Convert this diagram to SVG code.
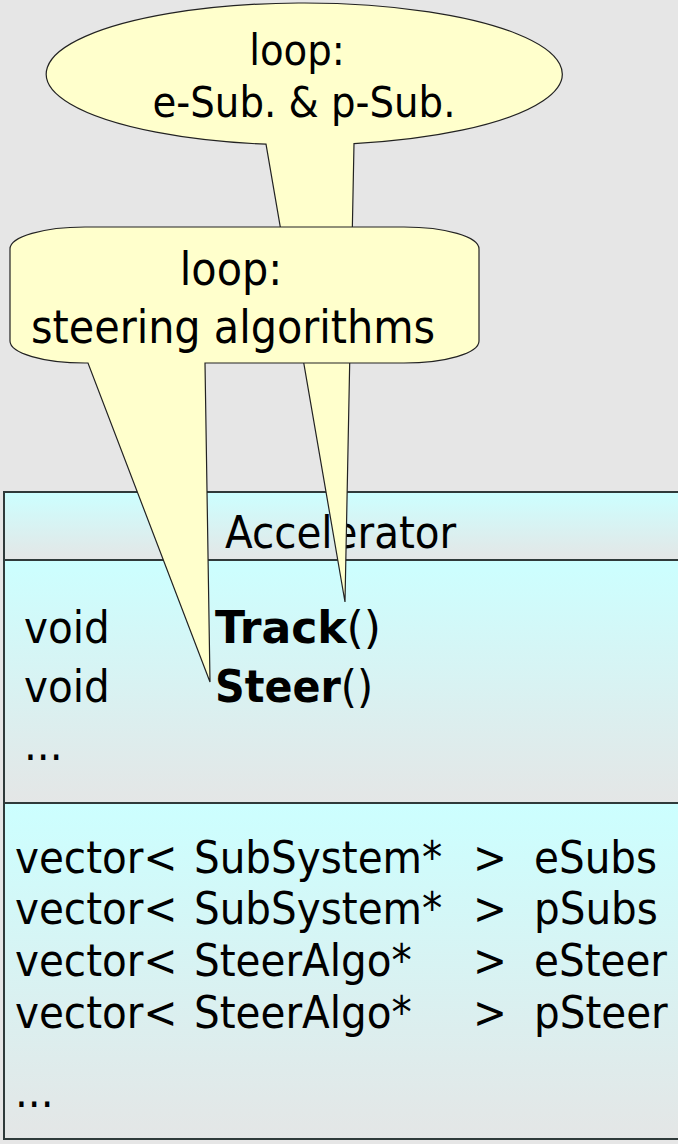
<svg xmlns="http://www.w3.org/2000/svg" width="678" height="1144" viewBox="0 0 678 1144">
<style>
text{font-family:"DejaVu Sans Condensed","DejaVu Sans",sans-serif;font-stretch:condensed;fill:#000}
.cls{font-size:45px}
.co{font-size:43px;text-anchor:middle}
.co2{font-size:46px;text-anchor:middle}
.callout{fill:#ffffcc;stroke:#222;stroke-width:1.2}
.comp{fill:url(#g);stroke:#2f3a3a;stroke-width:2}
</style>
<defs>
<linearGradient id="g" x1="0" y1="0" x2="0" y2="1">
<stop offset="0" stop-color="#ccffff"/>
<stop offset="1" stop-color="#e4e6e6"/>
</linearGradient>
</defs>
<rect x="0" y="0" width="678" height="1144" fill="#e6e6e6"/>
<g id="accelerator">
<rect class="comp" x="4" y="492" width="720" height="68"/>
<rect class="comp" x="4" y="560" width="720" height="243"/>
<rect class="comp" x="4" y="803" width="720" height="336"/>
<text class="cls" x="225" y="548">Accelerator</text>
<text class="cls" x="24" y="643">void</text>
<text class="cls" x="215" y="643" textLength="166" lengthAdjust="spacingAndGlyphs"><tspan font-weight="bold">Track</tspan>()</text>
<text class="cls" x="24" y="702">void</text>
<text class="cls" x="215" y="702" textLength="158" lengthAdjust="spacingAndGlyphs"><tspan font-weight="bold">Steer</tspan>()</text>
<text class="cls" x="24" y="760">...</text>
<text class="cls" x="15" y="873">vector&lt;</text><text class="cls" x="194" y="873">SubSystem*</text><text class="cls" x="473" y="873">&gt;</text><text class="cls" x="534" y="873">eSubs</text>
<text class="cls" x="15" y="924">vector&lt;</text><text class="cls" x="194" y="924">SubSystem*</text><text class="cls" x="473" y="924">&gt;</text><text class="cls" x="534" y="924">pSubs</text>
<text class="cls" x="15" y="976">vector&lt;</text><text class="cls" x="194" y="976">SteerAlgo*</text><text class="cls" x="473" y="976">&gt;</text><text class="cls" x="534" y="976">eSteer</text>
<text class="cls" x="15" y="1028">vector&lt;</text><text class="cls" x="194" y="1028">SteerAlgo*</text><text class="cls" x="473" y="1028">&gt;</text><text class="cls" x="534" y="1028">pSteer</text>
<text class="cls" x="15" y="1107">...</text>
</g>
<g id="callout-subs">
<path class="callout" d="M266,144.2 A258,71 0 1 1 354,143.65 L345,602 Z"/>
<text class="co" x="297" y="65">loop:</text>
<text class="co" x="304" y="117">e-Sub. &amp; p-Sub.</text>
</g>
<g id="callout-steer">
<path class="callout" d="M205,363 L404,363 A75,22 0 0 0 479,341 L479,249 A75,22 0 0 0 404,227 L85,227 A75,22 0 0 0 10,249 L10,341 A75,22 0 0 0 85,363 L88,363 L210,682 Z"/>
<text class="co2" x="231" y="285">loop:</text>
<text class="co2" x="233" y="343">steering algorithms</text>
</g>
<g id="connectors"></g>
</svg>
